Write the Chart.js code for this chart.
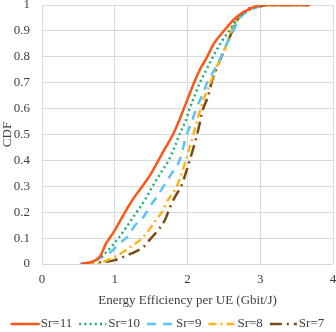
<!DOCTYPE html>
<html>
<head>
<meta charset="utf-8">
<script src="https://cdn.jsdelivr.net/npm/chart.js@4.4.1/dist/chart.umd.min.js"></script>
<style>
html,body{margin:0;padding:0;background:#fff;}
#wrap{width:336px;height:332px;}
</style>
</head>
<body>
<div id="wrap"><canvas id="c" width="336" height="332"></canvas></div>
<script>
const seriesNames = ["Sr=11", "Sr=10", "Sr=9", "Sr=8", "Sr=7"];
const xTicks = [0, 1, 2, 3, 4];
const yTicks = [0, 0.1, 0.2, 0.3, 0.4, 0.5, 0.6, 0.7, 0.8, 0.9, 1];

const sr11 = [[0.55,0],[0.7,0.01],[0.8,0.03],[0.88,0.08],[0.93,0.1],[1.0,0.13],[1.12,0.19],[1.25,0.25],[1.38,0.3],[1.5,0.35],[1.6,0.4],[1.7,0.45],[1.8,0.5],[1.88,0.55],[1.95,0.6],[2.02,0.65],[2.09,0.7],[2.17,0.75],[2.27,0.8],[2.36,0.85],[2.5,0.9],[2.66,0.95],[2.85,0.985],[3.05,1.0],[3.67,1.0]];
const sr10 = [[0.55,0],[0.7,0.008],[0.8,0.025],[0.9,0.05],[1.05,0.1],[1.18,0.15],[1.3,0.2],[1.42,0.25],[1.52,0.3],[1.63,0.35],[1.74,0.4],[1.82,0.45],[1.89,0.5],[1.97,0.55],[2.03,0.6],[2.1,0.65],[2.17,0.7],[2.26,0.75],[2.35,0.8],[2.45,0.85],[2.57,0.9],[2.7,0.95],[2.88,0.985],[3.08,1.0],[3.67,1.0]];
const sr9 = [[0.52,0],[0.7,0.01],[0.77,0.02],[0.89,0.035],[0.98,0.055],[1.07,0.08],[1.19,0.11],[1.28,0.15],[1.39,0.18],[1.48,0.22],[1.58,0.26],[1.67,0.3],[1.76,0.34],[1.89,0.4],[1.99,0.5],[2.06,0.55],[2.12,0.6],[2.2,0.65],[2.27,0.7],[2.37,0.75],[2.46,0.8],[2.54,0.85],[2.63,0.9],[2.72,0.95],[2.9,0.985],[3.1,1.0],[3.67,1.0]];
const sr8 = [[0.6,0],[0.8,0.005],[0.9,0.015],[1.05,0.035],[1.16,0.055],[1.25,0.073],[1.35,0.093],[1.44,0.12],[1.52,0.15],[1.58,0.176],[1.65,0.2],[1.73,0.247],[1.8,0.273],[1.86,0.305],[1.92,0.35],[2.01,0.43],[2.1,0.52],[2.19,0.61],[2.3,0.69],[2.4,0.76],[2.49,0.815],[2.6,0.9],[2.7,0.95],[2.88,0.985],[3.08,1.0],[3.67,1.0]];
const sr7 = [[0.55,0],[0.73,0.004],[1.0,0.015],[1.14,0.03],[1.3,0.05],[1.4,0.067],[1.5,0.1],[1.58,0.125],[1.69,0.17],[1.76,0.22],[1.83,0.26],[1.92,0.305],[1.96,0.337],[2.08,0.447],[2.15,0.52],[2.21,0.595],[2.28,0.645],[2.33,0.7],[2.42,0.77],[2.51,0.827],[2.6,0.89],[2.68,0.94],[2.8,0.98],[3.0,0.995],[3.1,1.0],[3.67,1.0]];

const seriesData = [sr11, sr10, sr9, sr8, sr7];
const colors = ["#FF5516", "#1BB07A", "#5BC4F5", "#FFB31A", "#7B4A14"];
const dashes = [[], [2, 3.2], [9, 7], [8, 4, 2, 4], [12, 5, 2, 5]];
const caps = ["round", "butt", "butt", "butt", "butt"];

const FONT = "'Liberation Serif', 'Times New Roman', serif";

const datasets = seriesData.map((d, i) => ({
  label: seriesNames[i],
  data: d.map(p => ({x: p[0], y: p[1]})),
  showLine: true,
  borderColor: colors[i],
  backgroundColor: colors[i],
  borderWidth: 2.5,
  borderDash: dashes[i],
  borderCapStyle: caps[i],
  pointRadius: 0,
  cubicInterpolationMode: 'monotone',
  fill: false
}));

const legendPlugin = {
  id: 'customLegend',
  afterDraw(chart) {
    const ctx = chart.ctx;
    ctx.save();
    ctx.font = "13px " + FONT;
    ctx.textBaseline = 'middle';
    const lineLen = 27, gap = 2, spacing = 7;
    let total = 0;
    const widths = seriesNames.map(n => ctx.measureText(n).width);
    widths.forEach(w => total += lineLen + gap + w);
    total += spacing * (seriesNames.length - 1);
    let x = (chart.width - total) / 2;
    const y = 324;
    seriesNames.forEach((n, i) => {
      ctx.strokeStyle = colors[i];
      ctx.lineWidth = 2.5;
      ctx.setLineDash(dashes[i]);
      ctx.lineCap = caps[i];
      ctx.beginPath();
      ctx.moveTo(x, y);
      ctx.lineTo(x + lineLen, y);
      ctx.stroke();
      ctx.setLineDash([]);
      ctx.fillStyle = '#404040';
      ctx.fillText(n, x + lineLen + gap, y);
      x += lineLen + gap + widths[i] + spacing;
    });
    ctx.restore();
  }
};

new Chart(document.getElementById('c'), {
  type: 'scatter',
  data: { datasets },
  plugins: [legendPlugin],
  options: {
    responsive: false,
    animation: false,
    layout: { padding: { top: 5, right: 3, bottom: 20, left: 0 } },
    plugins: { legend: { display: false }, tooltip: { enabled: false } },
    scales: {
      x: {
        type: 'linear', min: 0, max: 4,
        afterBuildTicks: s => { s.ticks = xTicks.map(v => ({value: v})); },
        afterFit: s => { s.height = 48; s.paddingLeft = 0; s.paddingRight = 0; },
        grid: { color: '#D9D9D9', lineWidth: 1, drawTicks: false },
        border: { display: false },
        ticks: { padding: 8, color: '#404040', font: { family: FONT, size: 13 } },
        title: { display: true, text: 'Energy Efficiency per UE (Gbit/J)', color: '#404040', font: { family: FONT, size: 13 }, padding: { top: 3 } }
      },
      y: {
        type: 'linear', min: 0, max: 1,
        afterBuildTicks: s => { s.ticks = yTicks.map(v => ({value: v})); },
        afterFit: s => { s.width = 42; s.paddingTop = 0; s.paddingBottom = 0; },
        grid: { color: '#D9D9D9', lineWidth: 1, drawTicks: false },
        border: { display: false },
        ticks: { padding: 12, color: '#404040', font: { family: FONT, size: 13 }, callback: v => String(v) },
        title: { display: true, text: 'CDF', color: '#404040', font: { family: FONT, size: 13 }, padding: { top: 0, bottom: 0 } }
      }
    }
  }
});
</script>
</body>
</html>
